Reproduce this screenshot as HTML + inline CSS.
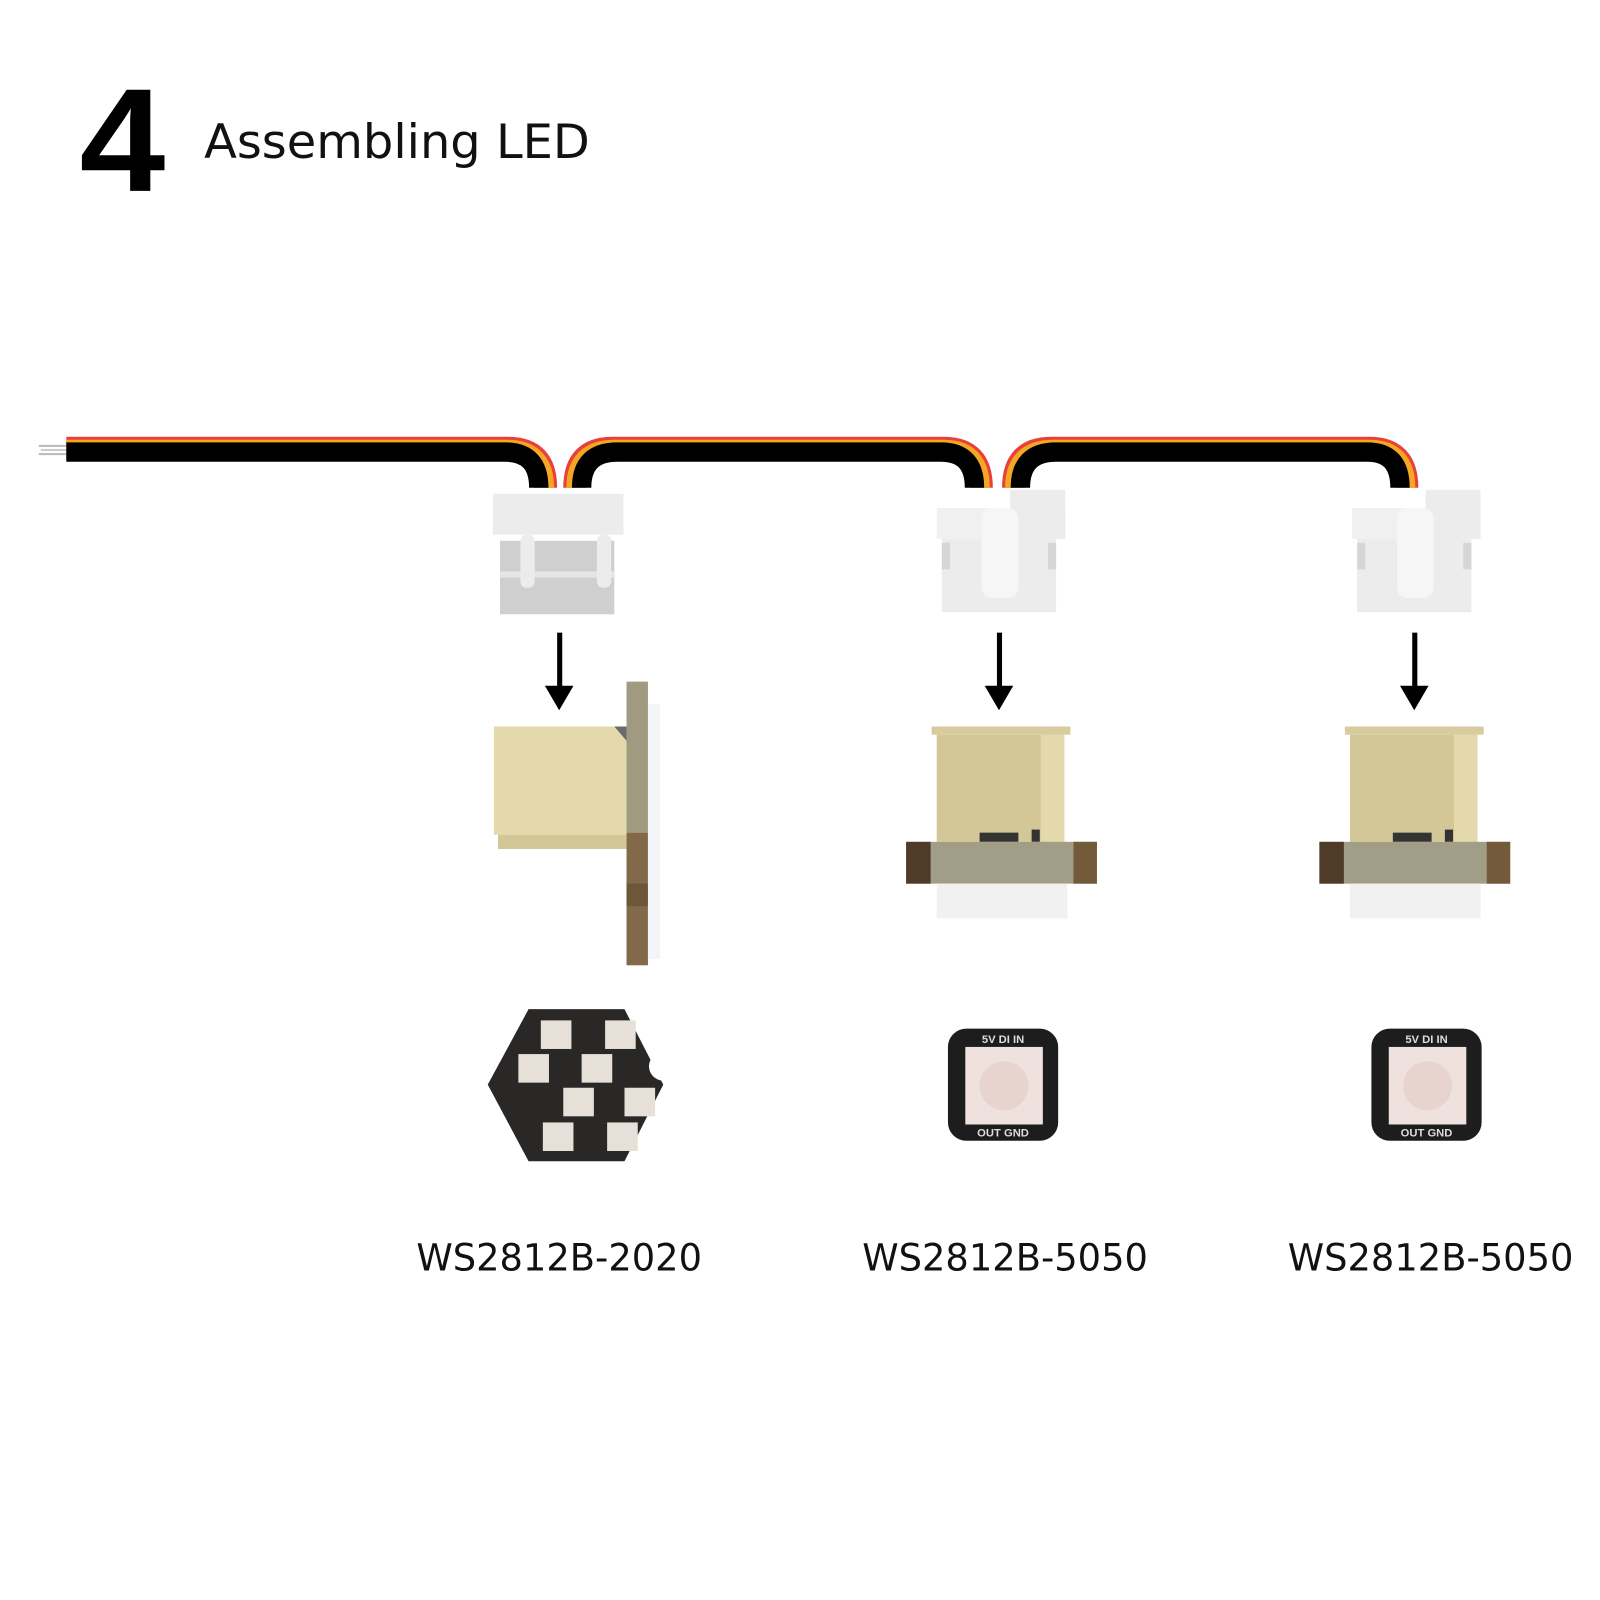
<!DOCTYPE html>
<html><head><meta charset="utf-8"><style>
html,body{margin:0;padding:0;background:#fff;}
svg{display:block}
</style></head><body>
<svg width="1600" height="1600" viewBox="0 0 1600 1600" xmlns="http://www.w3.org/2000/svg">
<rect width="1600" height="1600" fill="#fff"/>
<g transform="scale(1.0204)">
<text x="78" y="187" font-family="Liberation Sans, sans-serif" font-weight="bold" font-size="144" fill="#000" textLength="84" lengthAdjust="spacingAndGlyphs">4</text>
<text x="200" y="155" font-family="DejaVu Sans, Liberation Sans, sans-serif" font-size="46" fill="#111" textLength="378" lengthAdjust="spacingAndGlyphs">Assembling LED</text>

<rect x="38" y="436" width="28" height="2" fill="#bbb"/>
<rect x="40" y="440" width="26" height="2" fill="#ccc"/>
<rect x="38" y="444" width="28" height="2" fill="#bbb"/>

<g fill="none" stroke-linecap="butt">
  <path d="M65 439 H498 Q535 439 535 478" stroke="#e8403a" stroke-width="22"/>
  <path d="M65 441 H497 Q533 441 533 478" stroke="#f5a623" stroke-width="20"/>
  <path d="M65 443 H495 Q528 443 528 478" stroke="#000" stroke-width="19"/>
  <path d="M563 478 Q563 439 600 439 H925 Q962 439 962 478" stroke="#e8403a" stroke-width="22"/>
  <path d="M565 478 Q565 441 602 441 H925 Q960 441 960 478" stroke="#f5a623" stroke-width="20"/>
  <path d="M570 478 Q570 443 605 443 H922 Q955 443 955 478" stroke="#000" stroke-width="19"/>
  <path d="M993 478 Q993 439 1030 439 H1342 Q1379 439 1379 478" stroke="#e8403a" stroke-width="22"/>
  <path d="M995 478 Q995 441 1032 441 H1342 Q1377 441 1377 478" stroke="#f5a623" stroke-width="20"/>
  <path d="M1000 478 Q1000 443 1035 443 H1340 Q1372 443 1372 478" stroke="#000" stroke-width="19"/>
</g>

<rect x="483" y="484" width="128" height="40" fill="#ececec"/>
<rect x="490" y="530" width="112" height="72" fill="#cfcfcf"/>
<rect x="490" y="560" width="112" height="6" fill="#e6e6e6"/>
<rect x="510" y="524" width="14" height="52" rx="6" fill="#ececec"/>
<rect x="585" y="524" width="14" height="52" rx="6" fill="#ececec"/>

<rect x="918" y="498" width="126" height="30" fill="#f0f0f0"/>
<rect x="990" y="480" width="54" height="48" fill="#ececec"/>
<rect x="923" y="528" width="112" height="72" fill="#ececec"/>
<rect x="923" y="532" width="8" height="26" fill="#d6d6d6"/>
<rect x="1027" y="532" width="8" height="26" fill="#d6d6d6"/>
<rect x="962" y="498" width="36" height="88" rx="10" fill="#f6f6f6"/>

<rect x="1325" y="498" width="126" height="30" fill="#f0f0f0"/>
<rect x="1397" y="480" width="54" height="48" fill="#ececec"/>
<rect x="1330" y="528" width="112" height="72" fill="#ececec"/>
<rect x="1330" y="532" width="8" height="26" fill="#d6d6d6"/>
<rect x="1434" y="532" width="8" height="26" fill="#d6d6d6"/>
<rect x="1369" y="498" width="36" height="88" rx="10" fill="#f6f6f6"/>

<g fill="#000">
  <rect x="546" y="620" width="5" height="55"/><polygon points="534,672 562,672 548,696"/>
  <rect x="977" y="620" width="5" height="55"/><polygon points="965,672 993,672 979,696"/>
  <rect x="1384" y="620" width="5" height="55"/><polygon points="1372,672 1400,672 1386,696"/>
</g>

<rect x="484" y="712" width="130" height="106" fill="#e4d9ac"/>
<rect x="488" y="818" width="126" height="14" fill="#d3c797"/>
<polygon points="602,712 614,712 614,726" fill="#6a6a6a"/>
<rect x="614" y="668" width="21" height="148" fill="#a09a80"/>
<rect x="614" y="816" width="21" height="130" fill="#82694a"/>
<rect x="614" y="866" width="21" height="22" fill="#6d5639"/>
<rect x="635" y="690" width="12" height="250" fill="#f4f5f8"/>

<rect x="913" y="712" width="136" height="8" fill="#d8cb9d"/>
<rect x="918" y="720" width="125" height="105" fill="#d3c798"/>
<rect x="1020" y="720" width="23" height="105" fill="#e4d9ac"/>
<rect x="960" y="816" width="38" height="9" fill="#333"/>
<rect x="1011" y="813" width="8" height="12" fill="#333"/>
<rect x="888" y="825" width="187" height="41" fill="#a19d86"/>
<rect x="888" y="825" width="24" height="41" fill="#4e3b28"/>
<rect x="1052" y="825" width="23" height="41" fill="#735a3b"/>
<rect x="918" y="866" width="128" height="34" fill="#f1f1f1"/>

<rect x="1318" y="712" width="136" height="8" fill="#d8cb9d"/>
<rect x="1323" y="720" width="125" height="105" fill="#d3c798"/>
<rect x="1425" y="720" width="23" height="105" fill="#e4d9ac"/>
<rect x="1365" y="816" width="38" height="9" fill="#333"/>
<rect x="1416" y="813" width="8" height="12" fill="#333"/>
<rect x="1293" y="825" width="187" height="41" fill="#a19d86"/>
<rect x="1293" y="825" width="24" height="41" fill="#4e3b28"/>
<rect x="1457" y="825" width="23" height="41" fill="#735a3b"/>
<rect x="1323" y="866" width="128" height="34" fill="#f1f1f1"/>

<polygon points="518,989 612,989 650,1063 612,1138 518,1138 478,1063" fill="#2a2727"/>
<circle cx="650" cy="1045" r="14" fill="#fff"/>
<g fill="#e6e0d8">
  <rect x="530" y="1000" width="30" height="28"/>
  <rect x="593" y="1000" width="30" height="28"/>
  <rect x="508" y="1033" width="30" height="28"/>
  <rect x="570" y="1033" width="30" height="28"/>
  <rect x="552" y="1066" width="30" height="28"/>
  <rect x="612" y="1066" width="30" height="28"/>
  <rect x="532" y="1100" width="30" height="28"/>
  <rect x="595" y="1100" width="30" height="28"/>
</g>

<rect x="929" y="1008" width="108" height="110" rx="18" fill="#1d1d1d"/>
<rect x="946" y="1026" width="76" height="76" fill="#efe1dd"/>
<circle cx="984" cy="1064" r="24" fill="#e7d4cf"/>
<text x="983" y="1022" font-family="Liberation Sans, sans-serif" font-size="11" font-weight="bold" fill="#ddd" text-anchor="middle">5V DI IN</text>
<text x="983" y="1114" font-family="Liberation Sans, sans-serif" font-size="11" font-weight="bold" fill="#ddd" text-anchor="middle">OUT GND</text>

<rect x="1344" y="1008" width="108" height="110" rx="18" fill="#1d1d1d"/>
<rect x="1361" y="1026" width="76" height="76" fill="#efe1dd"/>
<circle cx="1399" cy="1064" r="24" fill="#e7d4cf"/>
<text x="1398" y="1022" font-family="Liberation Sans, sans-serif" font-size="11" font-weight="bold" fill="#ddd" text-anchor="middle">5V DI IN</text>
<text x="1398" y="1114" font-family="Liberation Sans, sans-serif" font-size="11" font-weight="bold" fill="#ddd" text-anchor="middle">OUT GND</text>

<g font-family="DejaVu Sans, Liberation Sans, sans-serif" font-size="37" fill="#111">
  <text x="408" y="1245" textLength="280" lengthAdjust="spacingAndGlyphs">WS2812B-2020</text>
  <text x="845" y="1245" textLength="280" lengthAdjust="spacingAndGlyphs">WS2812B-5050</text>
  <text x="1262" y="1245" textLength="280" lengthAdjust="spacingAndGlyphs">WS2812B-5050</text>
</g>
</g>
</svg>
</body></html>
